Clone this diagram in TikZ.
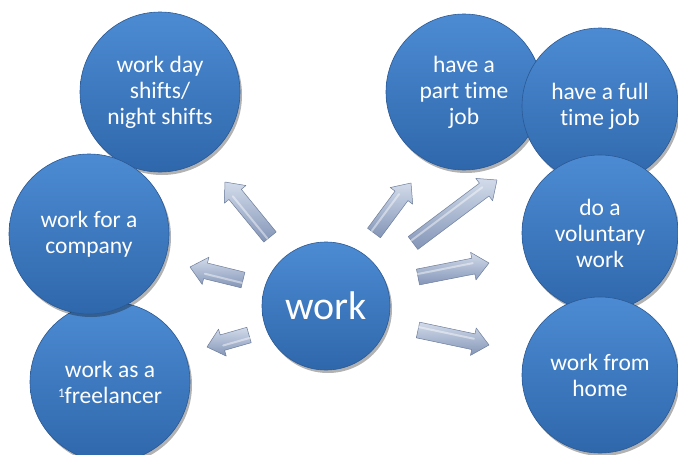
\documentclass[tikz,border=0pt]{standalone}
\usepackage{fontspec}
\setmainfont{Carlito}[Ligatures=NoCommon]
\usetikzlibrary{calc,shadows}
\definecolor{bubtop}{HTML}{4C8BD3}
\definecolor{bubbot}{HTML}{2F67AB}
\definecolor{bubline}{HTML}{2A5A96}
\definecolor{arrtop}{HTML}{D2DBEA}
\definecolor{arrbot}{HTML}{8395B7}
\definecolor{arrline}{HTML}{6E7E9C}
\tikzset{
  bub/.style={circle, inner sep=0pt, top color=bubtop, bottom color=bubbot,
    draw=bubline, line width=0.6pt, text=white, align=center,
    font=\fontsize{23.5}{26}\selectfont,
    drop shadow={shadow xshift=2pt, shadow yshift=-3pt, opacity=0.3, fill=black}},
  blockarr/.style={top color=arrtop, bottom color=arrbot, draw=arrline, line width=0.5pt, line join=round}
}
\newcommand\barrow[2]{%
  \coordinate (#1h) at ($(#2)!16pt!(#1)$);
  \path[blockarr] ($(#1)!8pt!90:(#2)$) -- ($(#1h)!8pt!90:(#2)$) -- ($(#1h)!14pt!90:(#2)$)
    -- (#2) -- ($(#1h)!14pt!-90:(#2)$) -- ($(#1h)!8pt!-90:(#2)$) -- ($(#1)!8pt!-90:(#2)$) -- cycle;
  \draw[white, opacity=0.45, line width=2pt, line cap=round] ($(#1)!3pt!90:(#2)$) -- ($(#1h)!3pt!90:(#2)$);
}
\begin{document}
\begin{tikzpicture}[x=1pt,y=-1pt]
\clip (0,0) rectangle (678,455);
\fill[white] (0,0) rectangle (678,455);
% left side
\node[bub, minimum size=160pt] (wd) at (160,92) {work day\\shifts/\\night shifts};
\node[bub, minimum size=160pt] (fl) at (110,382) {work as a\\\raisebox{0.5ex}{\fontsize{13}{13}\selectfont 1}freelancer};
\node[bub, minimum size=160pt] (co) at (89,234) {work for a\\company};
% right side
\node[bub, minimum size=156pt] (pt) at (464,92) {have a\\part time\\job};
\node[bub, minimum size=156pt] (ft) at (600,106) {have a full\\time job};
\node[bub, minimum size=156pt] (vo) at (600,233) {do a\\voluntary\\work};
\node[bub, minimum size=156pt] (ho) at (600,375) {work from\\home};
% centre
\node[bub, minimum size=128pt, font=\fontsize{40}{44}\selectfont] (wk) at (326,306) {work};
% arrow end points
\coordinate (a1) at (270,237); \coordinate (b1) at (225,182);
\coordinate (a2) at (243,280); \coordinate (b2) at (190,267);
\coordinate (a3) at (249,335); \coordinate (b3) at (207,347);
\coordinate (a4) at (374,233); \coordinate (b4) at (411,183);
\coordinate (a5) at (413,243); \coordinate (b5) at (497,180);
\coordinate (a6) at (418,277); \coordinate (b6) at (489,263);
\coordinate (a7) at (418,330); \coordinate (b7) at (489,345);
\barrow{a1}{b1}
\barrow{a2}{b2}
\barrow{a3}{b3}
\barrow{a4}{b4}
\barrow{a5}{b5}
\barrow{a6}{b6}
\barrow{a7}{b7}
\end{tikzpicture}
\end{document}
